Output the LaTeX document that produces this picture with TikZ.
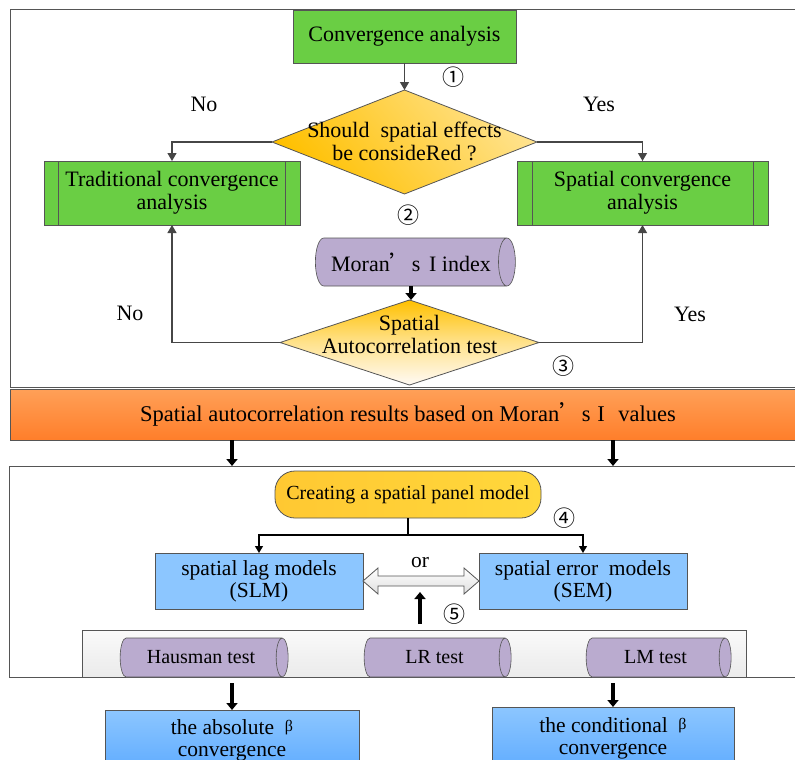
\documentclass[tikz,border=0pt]{standalone}
\usepackage{fontspec}
\setmainfont{Liberation Serif}
\newfontfamily\cjkfont{Noto Sans CJK SC}
\usetikzlibrary{shapes.geometric,arrows.meta,calc}
\definecolor{gfill}{RGB}{106,206,68}
\definecolor{bgray}{RGB}{85,85,85}
\definecolor{lgray}{RGB}{70,70,70}
\definecolor{ygold}{RGB}{255,192,0}
\definecolor{ylight}{RGB}{255,226,140}
\definecolor{ycreateA}{RGB}{255,200,50}
\definecolor{ycreateB}{RGB}{255,216,60}
\definecolor{purp}{RGB}{186,171,207}
\definecolor{lblue}{RGB}{140,198,255}
\definecolor{bblue}{RGB}{96,172,255}
\definecolor{orgA}{RGB}{255,160,88}
\definecolor{orgB}{RGB}{255,126,42}
\newcommand{\fsTop}{\fontsize{22}{23}\selectfont}
\newcommand{\fsLow}{\fontsize{21.5}{22}\selectfont}
\newcommand{\fsSmall}{\fontsize{20}{22}\selectfont}
\newcommand{\fsNum}{\cjkfont\fontsize{22}{24}\selectfont}
\newcommand{\apos}{{\cjkfont ’}}
\newcommand{\betaA}{\raisebox{3pt}{\fontsize{16}{16}\selectfont β}}
\tikzset{
  every node/.style={inner sep=0pt, outer sep=0pt},
  framebox/.style={draw=bgray, line width=1pt, rectangle, anchor=north west},
  gbox/.style={rectangle, draw=bgray, line width=0.8pt, fill=gfill, align=center, font=\fsTop},
  decision/.style={diamond, draw=bgray, line width=0.8pt},
  dtext/.style={align=center, font=\fsTop},
  cyl/.style={cylinder, draw=bgray, line width=0.6pt, fill=purp, aspect=0.9},
  lbl/.style={font=\fsTop},
  num/.style={font=\fsNum},
  bbox/.style={rectangle, draw=bgray, line width=0.8pt, fill=lblue, align=center, font=\fsLow},
  garr/.style={draw=lgray, line width=1.2pt, -{Triangle[length=8pt,width=9pt]}},
  karr/.style={draw=black, line width=1.3pt, -{Triangle[length=7pt,width=8pt]}},
  fatarr/.style={draw=black, line width=3.5pt, -{Triangle[length=7pt,width=11pt]}},
}
\begin{document}
\begin{tikzpicture}[x=1pt,y=-1pt]
\clip (0,0) rectangle (795,760);
\fill[white] (0,0) rectangle (795,760);
% frames
\node[framebox, minimum width=800pt, minimum height=377pt] (f1) at (10,10) {};
\node[framebox, minimum width=800pt, minimum height=211pt] (f2) at (9,466) {};
% top section
\node[gbox, minimum width=223pt, minimum height=53pt] (conv) at (404.5,36.5) {Convergence analysis};
\node[decision, minimum width=265pt, minimum height=104pt, top color=ylight, bottom color=ygold, shading angle=-50] (d1) at (404.5,142) {};
\node[dtext] (d1t) at (404.5,141) {Should\ \ spatial effects\\be consideRed ?};
\node[gbox, minimum width=256pt, minimum height=64pt] (trad) at (172,193) {Traditional convergence\\analysis};
\node[gbox, minimum width=251pt, minimum height=64pt] (spat) at (642.5,193) {Spatial convergence\\analysis};
\draw[bgray, line width=0.8pt] ($(trad.north west)+(14,0)$) -- ($(trad.south west)+(14,0)$);
\draw[bgray, line width=0.8pt] ($(trad.north east)+(-15,0)$) -- ($(trad.south east)+(-15,0)$);
\draw[bgray, line width=0.8pt] ($(spat.north west)+(15,0)$) -- ($(spat.south west)+(15,0)$);
\draw[bgray, line width=0.8pt] ($(spat.north east)+(-15,0)$) -- ($(spat.south east)+(-15,0)$);
\node[cyl, minimum width=48pt, minimum height=200pt, font=\fsTop] (moran) at (411,262) {Moran\apos s\hspace{0.4em}I index};
\node[decision, minimum width=259pt, minimum height=85pt, top color=ygold, bottom color=white!96!orange, middle color=ylight] (d2) at (409.5,342.5) {};
\node[dtext] (d2t) at (409.5,334) {Spatial\\Autocorrelation test};
\node[lbl] (no1) at (204,104) {No};
\node[lbl] (yes1) at (599,104) {Yes};
\node[lbl] (no2) at (130,313) {No};
\node[lbl] (yes2) at (690,314) {Yes};
\node[num] (n1) at (453,77) {①};
\node[num] (n2) at (408,215) {②};
\node[num] (n3) at (563,366) {③};
% orange bar
\node[rectangle, draw=bgray, line width=0.8pt, top color=orgA, bottom color=orgB, minimum width=796pt, minimum height=51pt, font=\fontsize{22.5}{24}\selectfont] (bar) at (408,414.5) {Spatial autocorrelation results based on Moran\apos s\hspace{0.3em}I\hspace{0.6em}values};
% lower section
\node[rectangle, rounded corners=20pt, draw=bgray, line width=0.8pt, left color=ycreateA, right color=ycreateB, minimum width=266pt, minimum height=47pt, font=\fsSmall] (create) at (408,494.5) {Creating a spatial panel model};
\node[bbox, minimum width=208pt, minimum height=56pt] (slm) at (259,581) {spatial lag models\\(SLM)};
\node[bbox, minimum width=208pt, minimum height=56pt] (sem) at (583,581) {spatial error\ \ models\\(SEM)};
\node[font=\fsLow] (orl) at (420,563) {or};
\node[num] (n4) at (564,518) {④};
\node[num] (n5) at (454,614) {⑤};
\node[rectangle, draw=bgray, line width=0.8pt, top color=gray!4, bottom color=gray!16, minimum width=664pt, minimum height=47pt] (gbar) at (414,653.5) {};
\node[cyl, minimum width=39pt, minimum height=168pt, font=\fsSmall] (haus) at (201,657.5) {Hausman test};
\node[cyl, minimum width=39pt, minimum height=147pt, font=\fsSmall] (lr) at (434.5,657.5) {LR test};
\node[cyl, minimum width=39pt, minimum height=145pt, font=\fsSmall] (lm) at (655.5,657.5) {LM test};
\node[bbox, top color=lblue, bottom color=bblue, minimum width=254pt, minimum height=60pt] (abs) at (232,740) {the absolute\ \ \betaA\\convergence};
\node[bbox, top color=lblue, bottom color=bblue, minimum width=242pt, minimum height=63pt] (cond) at (613,738.5) {the conditional\ \ \betaA\\convergence};
% connectors
\draw[garr] (conv.south) -- (d1.north);
\draw[garr] (d1.west) -| (trad.north);
\draw[garr] (d1.east) -| (spat.north);
\draw[fatarr] (moran.south) -- (moran.south |- d2.north);
\draw[garr] (d2.west) -| (trad.south);
\draw[garr] (d2.east) -| (spat.south);
\draw[fatarr] (bar.south -| abs.north) -- (f2.north -| abs.north);
\draw[fatarr] (bar.south -| cond.north) -- (f2.north -| cond.north);
\coordinate (br) at ($(create.south)+(0,17)$);
\draw[black, line width=1.3pt] (create.south) -- (br);
\draw[karr] (br) -| (slm.north);
\draw[karr] (br) -| (sem.north);
\draw[draw=bgray, line width=0.8pt, top color=white, bottom color=gray!25]
  (slm.east) -- ++(15,-13) -- ++(0,8) -- ($(sem.west)+(-15,-5)$) -- ++(0,-8) -- (sem.west)
  -- ++(-15,13) -- ++(0,-8) -- ($(slm.east)+(15,5)$) -- ++(0,8) -- cycle;
\draw[fatarr, line width=4.5pt] ($(gbar.north)+(6,-6)$) -- ++(0,-32);
\draw[fatarr] ($(f2.south -| abs.north)+(0,6)$) -- (abs.north);
\draw[fatarr] ($(f2.south -| cond.north)+(0,6)$) -- (cond.north);
\end{tikzpicture}
\end{document}
